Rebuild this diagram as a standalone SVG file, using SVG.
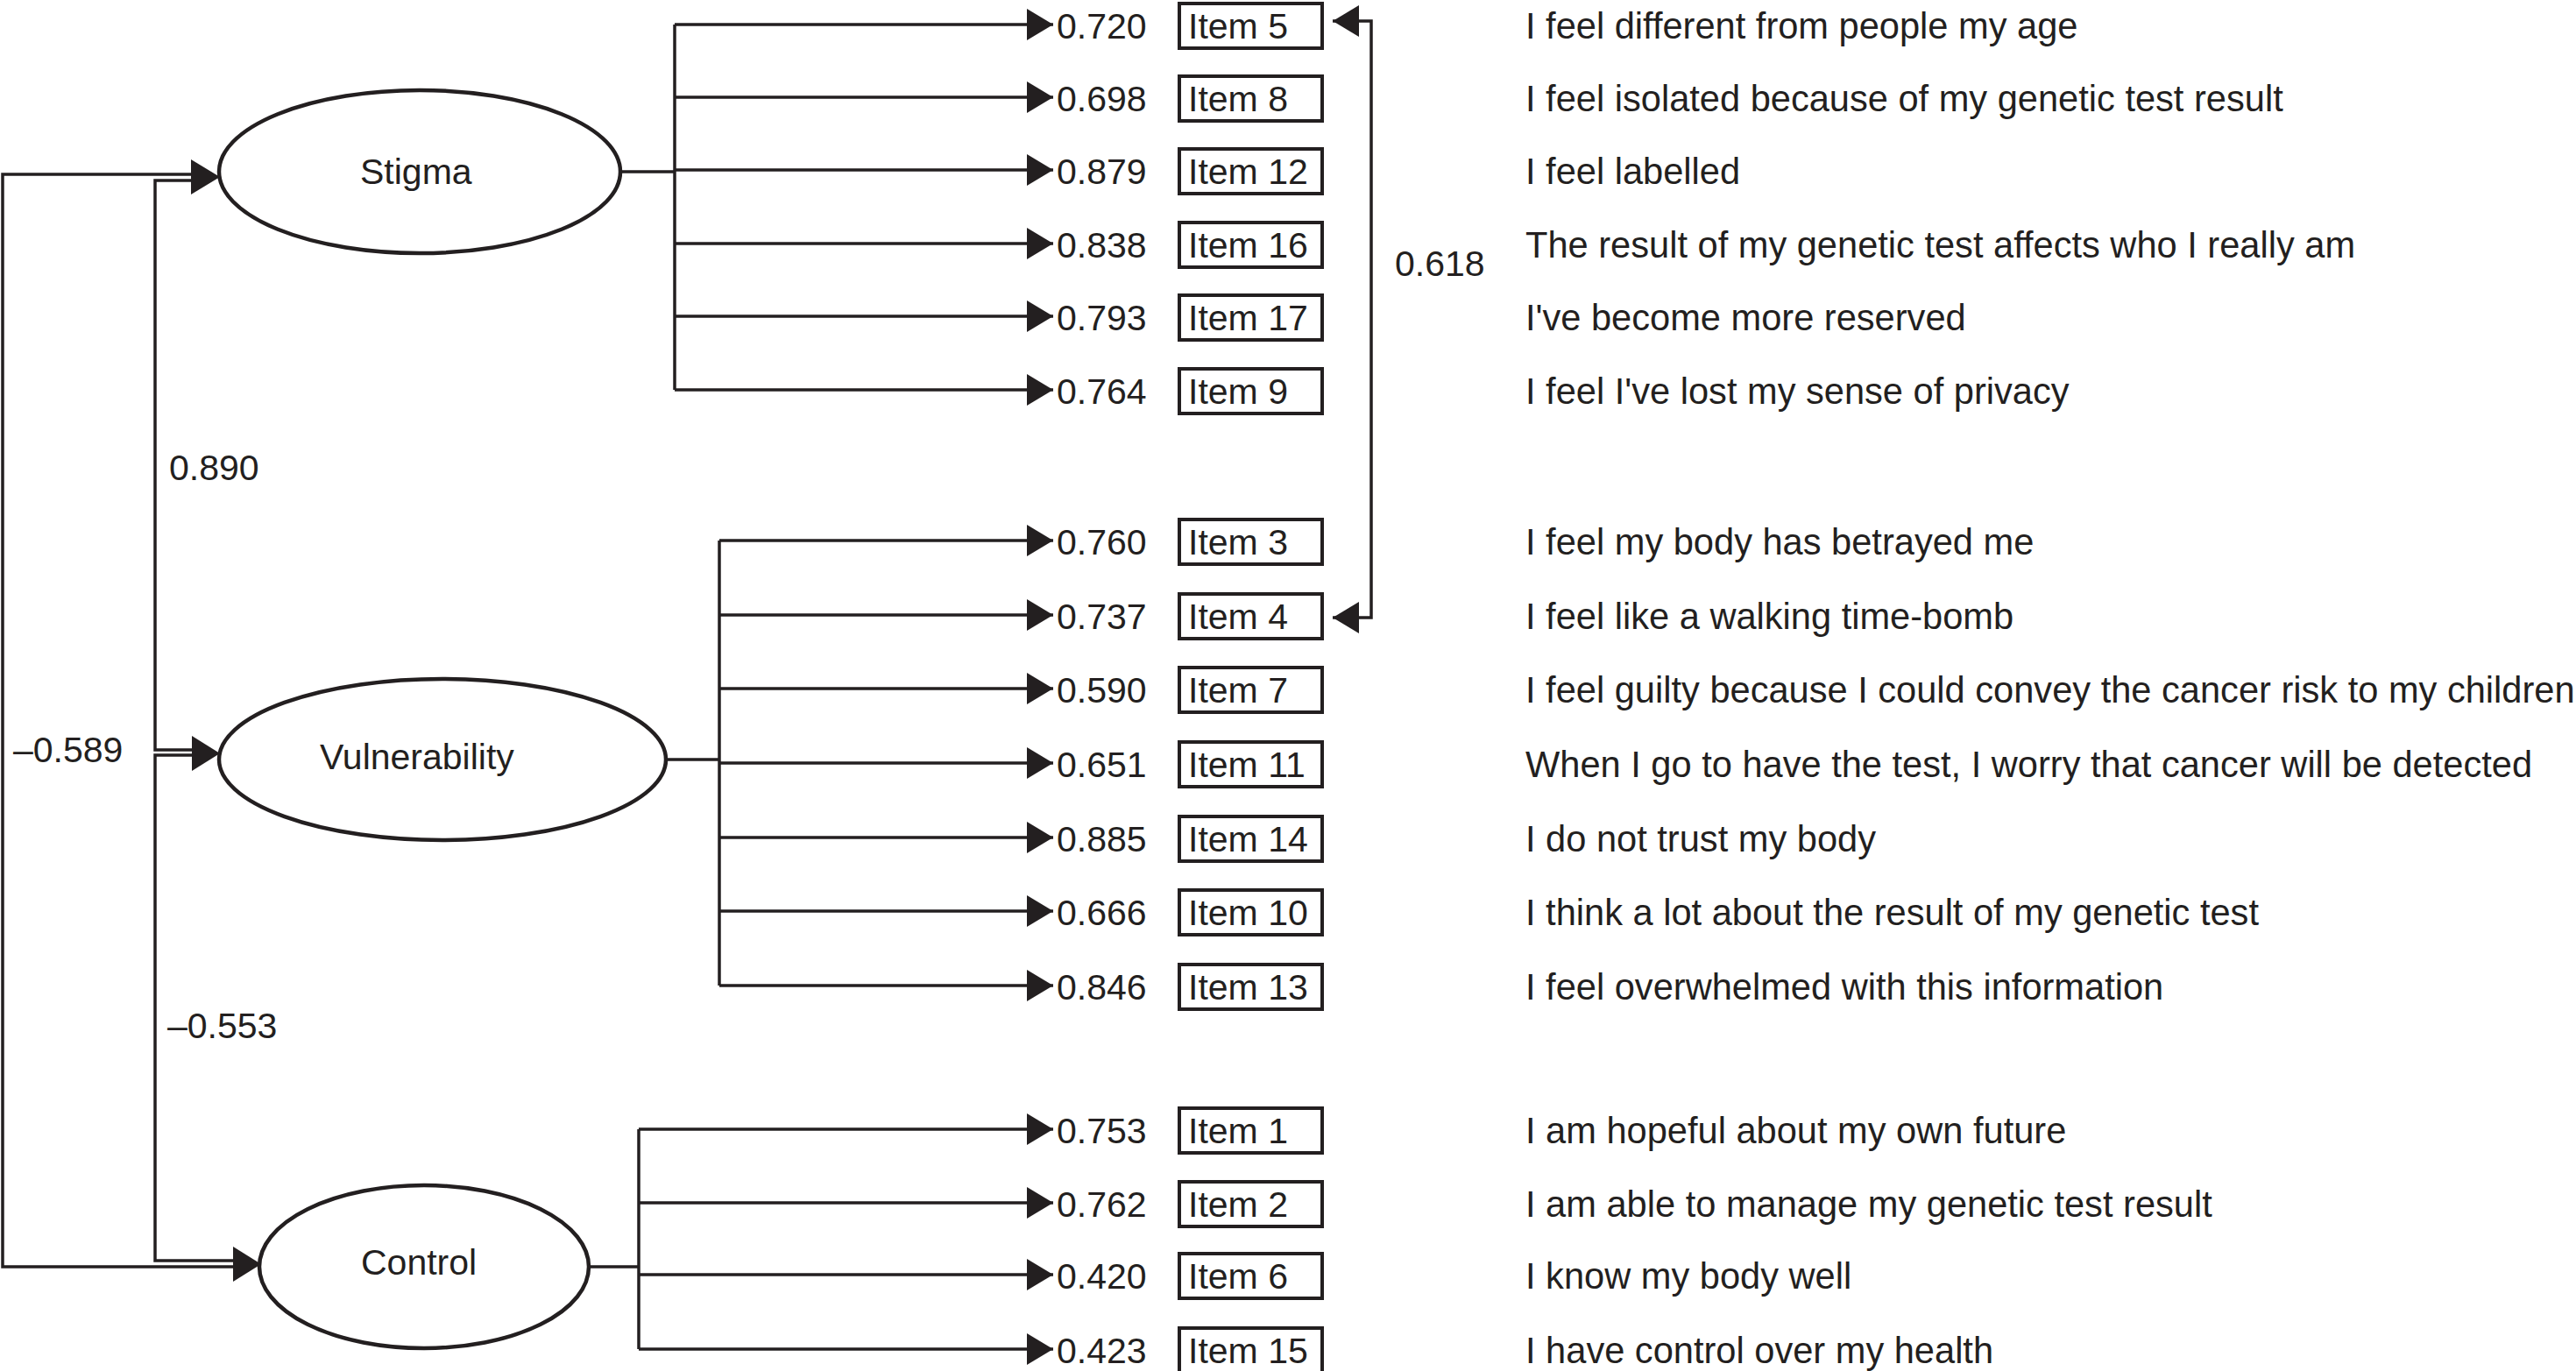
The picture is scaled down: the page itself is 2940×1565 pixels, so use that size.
<svg xmlns="http://www.w3.org/2000/svg" width="2940" height="1565" viewBox="0 0 2940 1565">
<style>
text{font-family:"Liberation Sans",Arial,sans-serif;font-size:41px;fill:#231f20}
text.d{font-size:41.6px}
.ell{fill:#fff;stroke:#231f20;stroke-width:4.5}
.box{fill:#fff;stroke:#231f20;stroke-width:4}
.ln{fill:none;stroke:#231f20;stroke-width:3.5}
.ar{fill:none;stroke:#231f20;stroke-width:3.5;marker-end:url(#ah)}
.hd{fill:#231f20}
</style>
<defs>
<marker id="ah" markerUnits="userSpaceOnUse" markerWidth="32" markerHeight="36" refX="30" refY="18" orient="auto">
<path d="M0,0 L30,18 L0,36 z" fill="#231f20"/>
</marker>
<marker id="ah2" markerUnits="userSpaceOnUse" markerWidth="32" markerHeight="36" refX="30" refY="18" orient="auto-start-reverse">
<path d="M0,0 L30,18 L0,36 z" fill="#231f20"/>
</marker>
</defs>
<rect width="2940" height="1565" fill="#fff"/>
<g id="connectors">
<path class="ln" d="M220,199 H3 V1446 H268"/>
<path class="ln" d="M220,206 H177 V856 H221"/>
<path class="ln" d="M221,862 H177 V1439 H268"/>
<polygon class="hd" points="218,182 251,202 218,222"/>
<polygon class="hd" points="219,840 251,860 219,880"/>
<polygon class="hd" points="266,1423 298,1443 266,1463"/>
<path class="ln" d="M708,196 H770 M770,28 V445"/>
<path class="ar" d="M770,28 H1202"/>
<path class="ar" d="M770,111 H1202"/>
<path class="ar" d="M770,194 H1202"/>
<path class="ar" d="M770,278 H1202"/>
<path class="ar" d="M770,361 H1202"/>
<path class="ar" d="M770,445 H1202"/>
<path class="ln" d="M760,867 H821 M821,617 V1125"/>
<path class="ar" d="M821,617 H1202"/>
<path class="ar" d="M821,702 H1202"/>
<path class="ar" d="M821,786 H1202"/>
<path class="ar" d="M821,871 H1202"/>
<path class="ar" d="M821,956 H1202"/>
<path class="ar" d="M821,1040 H1202"/>
<path class="ar" d="M821,1125 H1202"/>
<path class="ln" d="M672,1446 H729 M729,1289 V1540"/>
<path class="ar" d="M729,1289 H1202"/>
<path class="ar" d="M729,1373 H1202"/>
<path class="ar" d="M729,1455 H1202"/>
<path class="ar" d="M729,1540 H1202"/>
<path d="M1521,24 H1565 V705 H1521" fill="none" stroke="#231f20" stroke-width="3.5" marker-start="url(#ah2)" marker-end="url(#ah2)"/>
<text x="193" y="548">0.890</text>
<text x="15" y="870">–0.589</text>
<text x="191" y="1185">–0.553</text>
<text x="1592" y="315">0.618</text>
</g>
<g id="stigma"><ellipse class="ell" cx="479" cy="196" rx="229" ry="93"/><text x="411" y="210">Stigma</text></g>
<g id="vulnerability"><ellipse class="ell" cx="505" cy="867" rx="255" ry="92"/><text x="365" y="878">Vulnerability</text></g>
<g id="control"><ellipse class="ell" cx="484" cy="1446" rx="188" ry="93"/><text x="412" y="1455">Control</text></g>
<g id="item5"><text x="1206" y="44">0.720</text><rect class="box" x="1346" y="4" width="163" height="51"/><text x="1356" y="44">Item 5</text><text class="d" x="1741" y="44">I feel different from people my age</text></g>
<g id="item8"><text x="1206" y="127">0.698</text><rect class="box" x="1346" y="87" width="163" height="51"/><text x="1356" y="127">Item 8</text><text class="d" x="1741" y="127">I feel isolated because of my genetic test result</text></g>
<g id="item12"><text x="1206" y="210">0.879</text><rect class="box" x="1346" y="170" width="163" height="51"/><text x="1356" y="210">Item 12</text><text class="d" x="1741" y="210">I feel labelled</text></g>
<g id="item16"><text x="1206" y="294">0.838</text><rect class="box" x="1346" y="254" width="163" height="51"/><text x="1356" y="294">Item 16</text><text class="d" x="1741" y="294">The result of my genetic test affects who I really am</text></g>
<g id="item17"><text x="1206" y="377">0.793</text><rect class="box" x="1346" y="337" width="163" height="51"/><text x="1356" y="377">Item 17</text><text class="d" x="1741" y="377">I've become more reserved</text></g>
<g id="item9"><text x="1206" y="461">0.764</text><rect class="box" x="1346" y="421" width="163" height="51"/><text x="1356" y="461">Item 9</text><text class="d" x="1741" y="461">I feel I've lost my sense of privacy</text></g>
<g id="item3"><text x="1206" y="633">0.760</text><rect class="box" x="1346" y="593" width="163" height="51"/><text x="1356" y="633">Item 3</text><text class="d" x="1741" y="633">I feel my body has betrayed me</text></g>
<g id="item4"><text x="1206" y="718">0.737</text><rect class="box" x="1346" y="678" width="163" height="51"/><text x="1356" y="718">Item 4</text><text class="d" x="1741" y="718">I feel like a walking time-bomb</text></g>
<g id="item7"><text x="1206" y="802">0.590</text><rect class="box" x="1346" y="762" width="163" height="51"/><text x="1356" y="802">Item 7</text><text class="d" x="1741" y="802">I feel guilty because I could convey the cancer risk to my children</text></g>
<g id="item11"><text x="1206" y="887">0.651</text><rect class="box" x="1346" y="847" width="163" height="51"/><text x="1356" y="887">Item 11</text><text class="d" x="1741" y="887">When I go to have the test, I worry that cancer will be detected</text></g>
<g id="item14"><text x="1206" y="972">0.885</text><rect class="box" x="1346" y="932" width="163" height="51"/><text x="1356" y="972">Item 14</text><text class="d" x="1741" y="972">I do not trust my body</text></g>
<g id="item10"><text x="1206" y="1056">0.666</text><rect class="box" x="1346" y="1016" width="163" height="51"/><text x="1356" y="1056">Item 10</text><text class="d" x="1741" y="1056">I think a lot about the result of my genetic test</text></g>
<g id="item13"><text x="1206" y="1141">0.846</text><rect class="box" x="1346" y="1101" width="163" height="51"/><text x="1356" y="1141">Item 13</text><text class="d" x="1741" y="1141">I feel overwhelmed with this information</text></g>
<g id="item1"><text x="1206" y="1305">0.753</text><rect class="box" x="1346" y="1265" width="163" height="51"/><text x="1356" y="1305">Item 1</text><text class="d" x="1741" y="1305">I am hopeful about my own future</text></g>
<g id="item2"><text x="1206" y="1389">0.762</text><rect class="box" x="1346" y="1349" width="163" height="51"/><text x="1356" y="1389">Item 2</text><text class="d" x="1741" y="1389">I am able to manage my genetic test result</text></g>
<g id="item6"><text x="1206" y="1471">0.420</text><rect class="box" x="1346" y="1431" width="163" height="51"/><text x="1356" y="1471">Item 6</text><text class="d" x="1741" y="1471">I know my body well</text></g>
<g id="item15"><text x="1206" y="1556">0.423</text><rect class="box" x="1346" y="1516" width="163" height="51"/><text x="1356" y="1556">Item 15</text><text class="d" x="1741" y="1556">I have control over my health</text></g>
</svg>
